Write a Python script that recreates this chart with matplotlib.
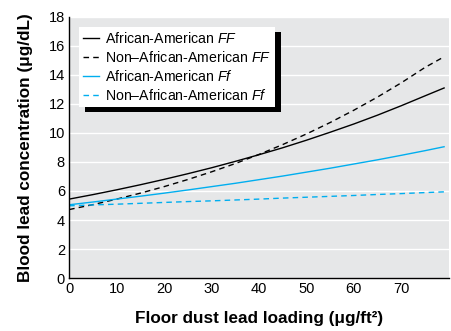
import matplotlib
matplotlib.use("Agg")
import matplotlib.pyplot as plt

# valores (carga de chumbo no piso x chumbo no sangue)
carga = [0, 5, 10, 15, 20, 25, 30, 35, 40, 45, 50, 55, 60, 65, 70, 75, 79]
afro_FF = [5.44, 5.75, 6.08, 6.43, 6.80, 7.19, 7.60, 8.04, 8.50, 8.98,
           9.50, 10.05, 10.62, 11.23, 11.88, 12.56, 13.1]
nao_afro_FF = [4.72, 5.06, 5.44, 5.85, 6.30, 6.79, 7.32, 7.89, 8.52, 9.20,
               9.93, 10.72, 11.57, 12.48, 13.46, 14.52, 15.25]
afro_Ff = [5.05, 5.24, 5.44, 5.64, 5.85, 6.07, 6.30, 6.53, 6.78, 7.03,
           7.30, 7.57, 7.86, 8.15, 8.46, 8.78, 9.05]
nao_afro_Ff = [4.98, 5.04, 5.09, 5.15, 5.21, 5.27, 5.32, 5.38, 5.44, 5.51,
               5.57, 5.63, 5.69, 5.76, 5.82, 5.89, 5.94]

xticks = [0, 10, 20, 30, 40, 50, 60, 70]
yticks = [0, 2, 4, 6, 8, 10, 12, 14, 16, 18]

plt.rcParams["font.family"] = ["Liberation Sans", "DejaVu Sans"]
plt.rcParams["mathtext.fontset"] = "custom"
plt.rcParams["mathtext.it"] = "Liberation Sans:italic"
plt.rcParams["mathtext.rm"] = "Liberation Sans"

azul = "#00aeef"

fig = plt.figure(figsize=(4.52, 3.31), dpi=100)
ax = fig.add_axes([0.153, 0.160, 0.840, 0.789])
ax.set_facecolor("#e6e7e8")

ax.plot(carga, afro_FF, color="black", lw=1.0, label="African-American $\\it{FF}$")
ax.plot(carga, nao_afro_FF, color="black", lw=1.0, ls=(0, (4, 3)),
        label="Non\u2013African-American $\\it{FF}$")
ax.plot(carga, afro_Ff, color=azul, lw=1.0, label="African-American $\\it{Ff}$")
ax.plot(carga, nao_afro_Ff, color=azul, lw=1.0, ls=(0, (4, 3)),
        label="Non\u2013African-American $\\it{Ff}$")

ax.set_xlim(0, 80)
ax.set_ylim(0, 18)
ax.set_xticks(xticks)
ax.set_yticks(yticks)
ax.tick_params(length=0, labelsize=10.5, pad=3)
ax.yaxis.grid(True, color="white", lw=1.0)
ax.set_axisbelow(True)
for lado in ["top", "right"]:
    ax.spines[lado].set_visible(False)
for lado in ["left", "bottom"]:
    ax.spines[lado].set_linewidth(1.0)

ax.set_ylabel("Blood lead concentration (\u03bcg/dL)", fontsize=12.3,
              fontweight="bold", labelpad=11)
ax.set_xlabel("Floor dust lead loading (\u03bcg/ft\u00b2)", fontsize=12.3,
              fontweight="bold", labelpad=11)

leg = ax.legend(loc="upper left", bbox_to_anchor=(0.026, 0.962), fontsize=10.2,
                frameon=True, fancybox=False, handlelength=1.1,
                handletextpad=0.45, borderpad=0.3, labelspacing=0.27,
                borderaxespad=0,
                shadow={"color": "black", "alpha": 1, "ox": 4, "oy": -4})
leg.get_frame().set_edgecolor("white")
leg.get_frame().set_linewidth(0)
leg.get_frame().set_alpha(1)

fig.savefig("out.png", dpi=100)
